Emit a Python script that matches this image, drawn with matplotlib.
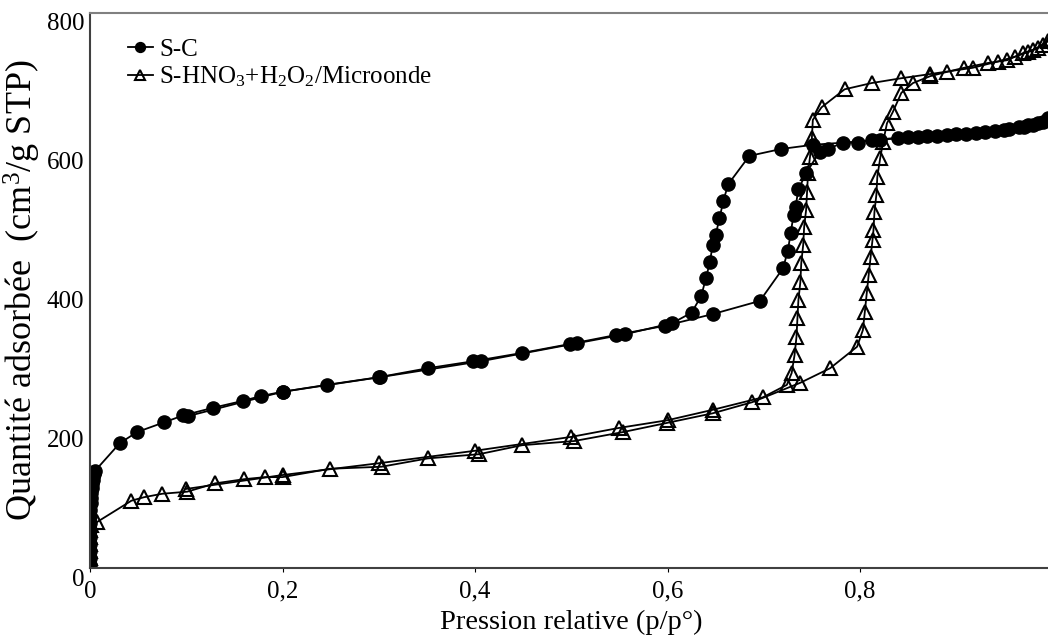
import matplotlib
matplotlib.use('Agg')
import matplotlib.pyplot as plt
import matplotlib.transforms as mtransforms

plt.rcParams['font.family'] = ['Liberation Serif', 'DejaVu Serif']
plt.rcParams['mathtext.fontset'] = 'custom'
plt.rcParams['mathtext.rm'] = 'Liberation Serif'
plt.rcParams['mathtext.it'] = 'Liberation Serif:italic'

# S-C, adsorption branch
sc_ads_x = [0.0, 0.0, 0.0, 0.0001, 0.0001, 0.0002, 0.0003, 0.0004, 0.0005, 0.0007,
            0.0009, 0.0012, 0.0016, 0.002, 0.0026, 0.0033, 0.0042, 0.0052,
            0.031, 0.049, 0.077, 0.097, 0.128, 0.159, 0.178, 0.2, 0.246, 0.3,
            0.351, 0.398, 0.449, 0.499, 0.547, 0.597, 0.647, 0.696, 0.72, 0.725,
            0.728, 0.731, 0.733, 0.736, 0.744, 0.758, 0.767, 0.782, 0.798, 0.812,
            0.839, 0.86, 0.88, 0.9, 0.92, 0.94, 0.955, 0.97, 0.98, 0.99, 0.997]
sc_ads_y = [5, 15, 25, 35, 45, 55, 65, 75, 84, 93,
            101, 108, 115, 121, 127, 132, 136, 140,
            180, 196, 210, 220, 231, 241, 248, 254, 264, 275,
            288, 298, 310, 323, 336, 349, 366, 385, 432, 457,
            483, 509, 520, 546, 569, 600, 604, 613, 613, 617,
            620, 621, 623, 625, 627, 630, 633, 636, 639, 643, 647]

# S-C, desorption branch
sc_des_x = [0.995, 0.985, 0.975, 0.965, 0.95, 0.93, 0.91, 0.89, 0.87, 0.85, 0.821,
            0.751, 0.718, 0.685, 0.663, 0.658, 0.654, 0.65, 0.647, 0.644, 0.64,
            0.635, 0.625, 0.605, 0.556, 0.506, 0.406, 0.301, 0.2, 0.102]
sc_des_y = [648, 642, 638, 635, 632, 629, 626, 624, 622, 621, 617,
            610, 604, 594, 553, 529, 504, 480, 466, 441, 418,
            392, 368, 353, 337, 324, 298, 275, 254, 219]

# S-HNO3+H2O2/Microonde, adsorption branch
mw_ads_x = [0.0, 0.0, 0.0, 0.0001, 0.0002, 0.0004, 0.0007, 0.007,
            0.043, 0.056, 0.075, 0.101, 0.13, 0.16, 0.182, 0.2, 0.249, 0.303,
            0.351, 0.404, 0.449, 0.503, 0.554, 0.599, 0.647, 0.688, 0.738, 0.769,
            0.797, 0.803, 0.805, 0.807, 0.809, 0.811, 0.813, 0.814, 0.815, 0.817,
            0.818, 0.821, 0.824, 0.828, 0.834, 0.843, 0.855, 0.873, 0.89, 0.908,
            0.933, 0.953, 0.969, 0.98, 0.99, 0.998]
mw_ads_y = [5, 15, 25, 35, 45, 55, 62, 66,
            97, 102, 107, 110, 122, 128, 131, 131, 143, 146,
            158, 164, 177, 183, 196, 209, 223, 239, 267, 288,
            319, 343, 369, 396, 422, 448, 473, 487, 513, 538,
            564, 591, 614, 641, 657, 685, 699, 709, 715, 721,
            728, 732, 742, 747, 754, 762]

# S-HNO3+H2O2/Microonde, desorption branch
mw_des_x = [0.995, 0.985, 0.975, 0.961, 0.943, 0.917, 0.873, 0.843, 0.812, 0.784,
            0.76, 0.751, 0.75, 0.748, 0.746, 0.745, 0.744, 0.742, 0.741, 0.739,
            0.738, 0.736, 0.735, 0.734, 0.732, 0.729, 0.724, 0.699, 0.647, 0.6,
            0.55, 0.5, 0.4, 0.3, 0.2, 0.1]
mw_des_y = [760, 750, 744, 737, 730, 721, 712, 706, 699, 690,
            664, 646, 620, 592, 569, 542, 516, 492, 466, 440,
            412, 386, 360, 333, 307, 281, 264, 246, 228, 213,
            202, 189, 169, 151, 134, 114]

x_ticks = [0, 0.2, 0.4, 0.6, 0.8]
x_tick_labels = ['0', '0,2', '0,4', '0,6', '0,8']
y_ticks = [0, 200, 400, 600, 800]

fig = plt.figure(figsize=(10.48, 6.37), dpi=100)
ax = fig.add_axes([90 / 1048, 69 / 637, 962.5 / 1048, 555 / 637])

circle_style = dict(color='black', linewidth=1.3, marker='o', markersize=9.5,
                    markerfacecolor='black', markeredgecolor='black')
tri_style = dict(color='black', linewidth=1.3, marker='^', markersize=9.5,
                 markerfacecolor='none', markeredgecolor='black', markeredgewidth=1.5)

ax.plot(sc_ads_x, sc_ads_y, label='S-C', **circle_style)
ax.plot(sc_des_x, sc_des_y, **circle_style)
ax.plot(mw_ads_x, mw_ads_y, label=r'S-HNO$_3$+H$_2$O$_2$/Microonde', **tri_style)
ax.plot(mw_des_x, mw_des_y, **tri_style)

ax.set_xlim(0, 1.0)
ax.set_ylim(0, 800)
ax.set_xticks(x_ticks)
ax.set_xticklabels(x_tick_labels)
ax.set_yticks(y_ticks)
ax.tick_params(axis='x', direction='out', length=3, pad=6, labelsize=18)
ax.tick_params(axis='y', direction='out', length=0, pad=4, labelsize=18)

# y tick labels sit a little below their tick, as in the original
offset = mtransforms.ScaledTranslation(0, -9 / 100, fig.dpi_scale_trans)
for lab in ax.get_yticklabels():
    lab.set_transform(lab.get_transform() + offset)

ax.spines['left'].set_color('#404040')
ax.spines['bottom'].set_color('#404040')
ax.spines['top'].set_color('#808080')
ax.spines['right'].set_visible(False)
for s in ['left', 'bottom', 'top']:
    ax.spines[s].set_linewidth(1.5)

ax.set_xlabel('Pression relative (p/p°)', fontsize=20.5, labelpad=5)
ax.set_ylabel(r'Quantité adsorbée  (cm$^3$/g STP)', fontsize=26, labelpad=3)

ax.legend(loc='upper left', bbox_to_anchor=(0.016, 0.995), frameon=False, fontsize=18,
          handlelength=1.0, handletextpad=0.25, markerscale=0.75, labelspacing=0.15)

fig.savefig('out.png', dpi=100)
